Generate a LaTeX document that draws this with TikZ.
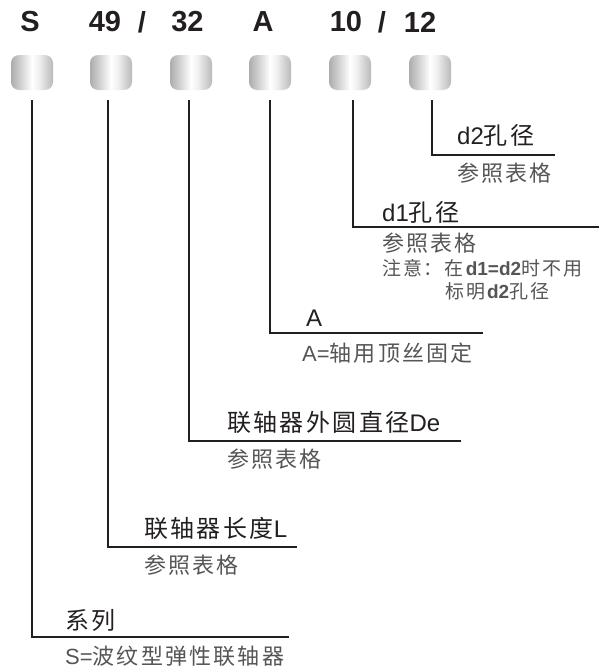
\documentclass[tikz,border=0pt]{standalone}
\usepackage{fontspec}
\setmainfont{Liberation Sans}
\newfontfamily\cjk[LetterSpace=10]{Noto Sans CJK SC}
\newcommand{\zh}[1]{{\cjk #1}}
\definecolor{ink}{HTML}{231F20}
\definecolor{subgray}{HTML}{555555}
\pgfdeclarehorizontalshading{knobshade}{100bp}{color(0bp)=(black!40); color(14bp)=(black!47); color(50bp)=(white); color(58bp)=(black!6); color(82bp)=(black!36); color(100bp)=(black!44)}
\tikzset{
  toplab/.style={font=\fontsize{29}{30}\selectfont\bfseries, text=ink, inner sep=0pt},
  knob/.style={shading=knobshade, rounded corners=8pt, minimum width=42pt, minimum height=35pt, inner sep=0pt},
  head/.style={anchor=west, inner sep=0pt, text=ink, font=\fontsize{24}{26}\selectfont},
  sub/.style={anchor=west, inner sep=0pt, text=subgray, font=\fontsize{22}{24}\selectfont},
  note/.style={anchor=west, inner sep=0pt, text=subgray, font=\fontsize{19}{21}\selectfont},
  lead/.style={draw=ink, line width=1.3pt}
}
\begin{document}
\begin{tikzpicture}[x=1pt,y=-1pt]
\useasboundingbox (0,0) rectangle (599,672);
% top labels
\node[toplab] (tS) at (30,22) {S};
\node[toplab] (t49) at (105,22) {49};
\node[toplab] (ts1) at (142,22) {/};
\node[toplab] (t32) at (187.5,22) {32};
\node[toplab] (tA) at (263,22) {A};
\node[toplab] (t10) at (346,22) {10};
\node[toplab] (ts2) at (382,22) {/};
\node[toplab] (t12) at (420,22) {12};
% knobs
\node[knob] (b1) at (32,72.5) {};
\node[knob] (b2) at (111,72.5) {};
\node[knob] (b3) at (191,72.5) {};
\node[knob] (b4) at (270,72.5) {};
\node[knob] (b5) at (350,72.5) {};
\node[knob] (b6) at (430,72.5) {};
% leader start and end points
\coordinate (s1) at (32,100);  \coordinate (e1) at (289,637);
\coordinate (s2) at (108,100); \coordinate (e2) at (297,547);
\coordinate (s3) at (189,100); \coordinate (e3) at (461,441);
\coordinate (s4) at (270,100); \coordinate (e4) at (483,333);
\coordinate (s5) at (353,100); \coordinate (e5) at (599,227);
\coordinate (s6) at (432,100); \coordinate (e6) at (555,155);
\foreach \i in {1,...,6}{\draw[lead] (s\i) |- (e\i);}
% texts
\node[head] (h6) at (457,135) {d2\zh{孔径}};
\node[sub]  (r6) at (457,173) {\zh{参照表格}};
\node[head] (h5) at (382,212) {d1\zh{孔径}};
\node[sub]  (r5) at (382,243) {\zh{参照表格}};
\node[note] (n5a) at (382,268) {\zh{注意：在}\textbf{d1=d2}\zh{时不用}};
\node[note] (n5b) at (445,291) {\zh{标明}\textbf{d2}\zh{孔径}};
\node[head] (h4) at (306,318) {A};
\node[sub]  (r4) at (302,353) {A=\zh{轴用顶丝固定}};
\node[head] (h3) at (227,422) {\zh{联轴器外圆直径}De};
\node[sub]  (r3) at (227,459) {\zh{参照表格}};
\node[head] (h2) at (144,528) {\zh{联轴器长度}L};
\node[sub]  (r2) at (144,565) {\zh{参照表格}};
\node[head] (h1) at (65,620) {\zh{系列}};
\node[sub]  (r1) at (65,656) {S=\zh{波纹型弹性联轴器}};
\end{tikzpicture}
\end{document}
